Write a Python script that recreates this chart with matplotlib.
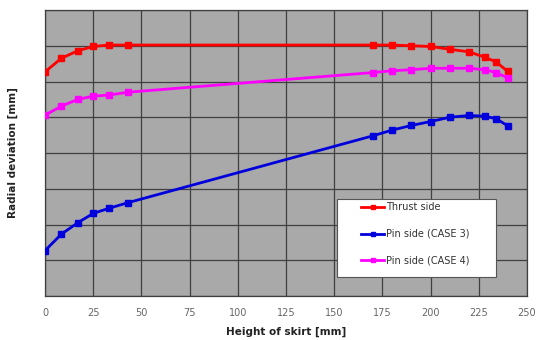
import matplotlib
matplotlib.use("Agg")
import matplotlib.pyplot as plt
from matplotlib.patches import Rectangle

x_vals = [0, 8.5, 17, 25, 33, 43, 170, 180, 190, 200, 210, 220, 228, 234, 240]
thrust = [6.27, 6.65, 6.86, 6.98, 7.02, 7.02, 7.02, 7.02, 7.0, 6.98, 6.9, 6.83, 6.68, 6.55, 6.28]
pin_case3 = [1.27, 1.73, 2.05, 2.31, 2.45, 2.61, 4.48, 4.64, 4.77, 4.88, 5.0, 5.05, 5.03, 4.96, 4.76]
pin_case4 = [5.06, 5.31, 5.50, 5.59, 5.62, 5.70, 6.25, 6.30, 6.33, 6.37, 6.37, 6.37, 6.33, 6.25, 6.10]
labels = ["Thrust side", "Pin side (CASE 3)", "Pin side (CASE 4)"]
colors = ["#ff0000", "#0000dd", "#ff00ff"]
x_ticks = [0, 25, 50, 75, 100, 125, 150, 175, 200, 225, 250]

W, H = 540, 340
fig = plt.figure(figsize=(5.4, 3.4), dpi=100)
ax = fig.add_axes([45/W, 44/H, 482/W, 286/H])
ax.set_facecolor("#a9a9a9")

for ys, lab, c in zip([thrust, pin_case3, pin_case4], labels, colors):
    ax.plot(x_vals, ys, color=c, lw=2, marker="s", ms=5, label=lab, zorder=3)

ax.set_xlim(0, 250)
ax.set_ylim(0, 8)
ax.set_xticks(x_ticks)
ax.set_yticks(range(0, 9))
ax.set_yticklabels([])
ax.grid(True, color="#404040", lw=0.9)
for s in ax.spines.values():
    s.set_color("#404040")
    s.set_linewidth(0.9)
ax.tick_params(axis="x", length=0, labelsize=7, labelcolor="#666666", pad=9)
ax.tick_params(axis="y", length=0)

ax.set_xlabel("Height of skirt [mm]", fontsize=7.5, fontweight="bold", color="#222222", labelpad=6)
ax.set_ylabel("Radial deviation [mm]", fontsize=7.5, fontweight="bold", color="#222222", labelpad=16)

# legend box (figure pixel coords -> figure fraction)
box = Rectangle((337/W, (H-277)/H), (496-337)/W, (277-199)/H, transform=fig.transFigure,
                facecolor="white", edgecolor="#555555", lw=0.8, zorder=4, clip_on=False)
ax.add_patch(box)

leg = ax.legend(loc="upper left", bbox_to_anchor=((357-45)/482, (296-198.5)/286),
                fontsize=7, frameon=False, handlelength=2.4, labelspacing=1.7,
                handletextpad=0.15, borderpad=0.4, borderaxespad=0, markerscale=0.7)
leg.set_zorder(5)
for t in leg.get_texts():
    t.set_color("#333333")

fig.savefig("out.png", dpi=100)
